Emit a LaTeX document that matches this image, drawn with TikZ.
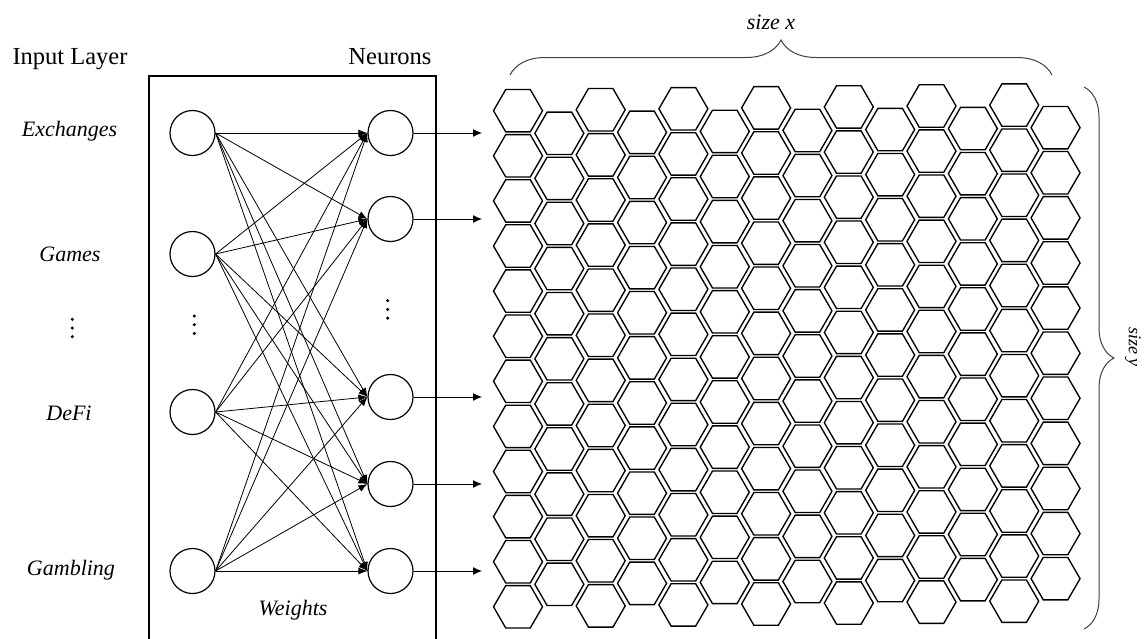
\documentclass[tikz,border=0pt]{standalone}
\usepackage{fontspec}
\setmainfont{Liberation Serif}
\usetikzlibrary{shapes.geometric,arrows.meta,decorations.pathreplacing}
\begin{document}
\begin{tikzpicture}[x=1pt,y=-1pt,
  neuron/.style={circle,draw,line width=1.2pt,minimum size=45pt,inner sep=0pt},
  hexa/.style={regular polygon,regular polygon sides=6,draw,line width=1.35pt,minimum size=49pt,inner sep=0pt,outer sep=0pt},
  conn/.style={line width=0.8pt,-{Latex[length=9pt,width=7pt]}},
  outarr/.style={line width=1pt,-{Latex[length=9pt,width=8pt]}},
  head/.style={font=\fontsize{24.5}{28}\selectfont,anchor=base,inner sep=0pt},
  lbl/.style={font=\fontsize{22}{26}\selectfont\itshape,anchor=base,inner sep=0pt},
  brc/.style={decorate,line width=1pt,draw=black!75}]
\useasboundingbox (0,0) rectangle (1144,638);
% box
\draw[line width=1.2pt] (149,76) rectangle (436,660);
% headers
\node[head] (tin) at (70,64) {Input Layer};
\node[head] (tneu) at (390,64) {Neurons};
% input labels
\node[lbl] (l1) at (69.5,136.7) {Exchanges};
\node[lbl] (l2) at (70,261.7) {Games};
\node[lbl] (l3) at (69,420) {DeFi};
\node[lbl] (l4) at (71,575) {Gambling};
\node[lbl] (lw) at (293,615) {Weights};
\node[lbl] (lx) at (771,29.3) {size x};
\node[font=\fontsize{18}{21}\selectfont\itshape,rotate=-90] (ly) at (1133,347) {size y};
% dots
\foreach \x/\y in {72.3/319.3, 194.3/316, 387.7/300.7}{
  \fill (\x,\y) circle (1.7);
  \fill (\x,\y+8.7) circle (1.7);
  \fill (\x,\y+17.4) circle (1.7);
}
% neurons
\node[neuron] (i1) at (192.5,133) {};
\node[neuron] (i2) at (192.5,254) {};
\node[neuron] (i3) at (192.5,412) {};
\node[neuron] (i4) at (192.5,571) {};
\node[neuron] (o1) at (390.5,133) {};
\node[neuron] (o2) at (390.5,219) {};
\node[neuron] (o3) at (390.5,397) {};
\node[neuron] (o4) at (390.5,484) {};
\node[neuron] (o5) at (390.5,571) {};
\foreach \i in {1,...,4}{
  \foreach \o in {1,...,5}{
    \draw[conn] (i\i.east) -- (o\o.west);
  }
}
% arrows to grid
\foreach \o in {1,...,5}{
  \coordinate (a\o) at (482,0 |- o\o.east);
  \draw[outarr] (o\o.east) -- (a\o);
}
% hexagon grid
\foreach \c in {1,3,...,13}{
  \foreach \r in {1,...,12}{
    \node[hexa] (h-\c-\r) at ({518+41.35*(\c-1)},{110.7-0.47*(\c-1)+45.1*(\r-1)}) {};
  }
}
\foreach \c in {2,4,...,14}{
  \foreach \r in {1,...,11}{
    \node[hexa] (h-\c-\r) at ({518+41.35*(\c-1)},{133.3-0.47*(\c-2)+45.1*(\r-1)}) {};
  }
}
% braces
\draw[brc,decoration={brace,amplitude=35pt}] (510,75) -- (1052,75);
\draw[brc,decoration={brace,amplitude=30pt}] (1084,87) -- (1084,629);
\end{tikzpicture}
\end{document}
